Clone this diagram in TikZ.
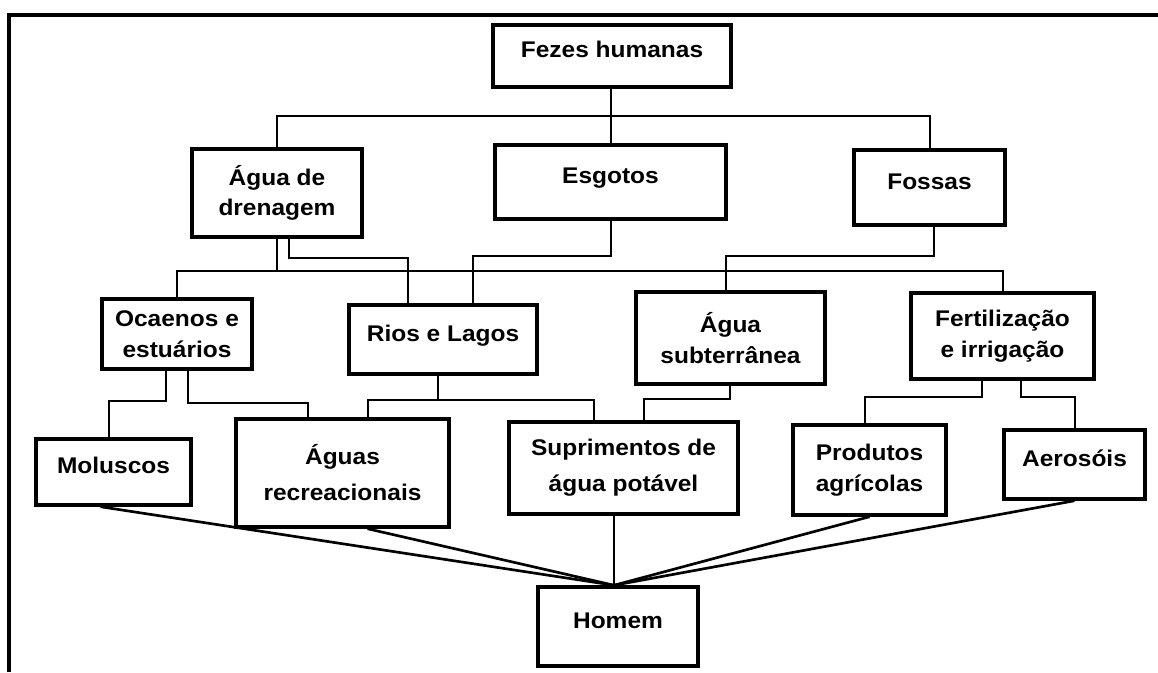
\documentclass[tikz,border=0pt]{standalone}
\usepackage{fontspec}
\setmainfont{Liberation Sans}[FakeStretch=1.08]
\usetikzlibrary{calc}

\tikzset{every picture/.style={line width=0.75pt}}
\tikzset{
  caixa/.style={draw, line width=2.6pt, fill=white, align=center, inner sep=2pt,
    font=\fontsize{17}{23}\selectfont\bfseries},
  tam/.style 2 args={minimum width=#1*0.75pt, minimum height=#2*0.75pt},
  umalinha/.style={text height=0.75em, text depth=0.47em},
  liga/.style={line width=1.5pt},
  liga2/.style={line width=2pt}
}

\begin{document}
\begin{tikzpicture}[x=0.75pt,y=0.75pt,yscale=-1,xscale=1]
\useasboundingbox (0,0) rectangle (1158,672);

\draw [line width=3.3pt] (9,672) -- (9,15) -- (1158,15);

% caixas
\node [caixa, tam={238}{62}, umalinha] (fezes) at (612,56) {Fezes humanas};
\node [caixa, tam={170}{88}] (drenagem) at (277,193) {Água de\\drenagem};
\node [caixa, tam={231}{74}, umalinha] (esgotos) at (610.5,182) {Esgotos};
\node [caixa, tam={151}{75}, umalinha] (fossas) at (929.5,187.5) {Fossas};
\node [caixa, tam={150}{70}] (ocaenos) at (177,334) {Ocaenos e\\estuários};
\node [caixa, tam={188}{69}, umalinha] (rios) at (443,339.5) {Rios e Lagos};
\node [caixa, tam={189}{92}] (subt) at (730.5,338) {Água\\subterrânea};
\node [caixa, tam={183}{86}] (fert) at (1002.5,336) {Fertilização\\e irrigação};
\node [caixa, tam={155}{66}, umalinha] (moluscos) at (113.5,472) {Moluscos};
\node [caixa, tam={213}{108}] (aguasrec) at (342.5,473) {Águas\\[4pt]recreacionais};
\node [caixa, tam={229}{92}] (supr) at (623.5,468) {Suprimentos de\\[4pt]água potável};
\node [caixa, tam={153}{90}] (produtos) at (869.5,470) {Produtos\\agrícolas};
\node [caixa, tam={141}{69}, umalinha] (aerosois) at (1074.5,464.5) {Aerosóis};
\node [caixa, tam={160}{79}, umalinha] (homem) at (618,626.5) {Homem};

% fezes
\coordinate (j1) at (610,116);
\draw [liga] (esgotos.north) -- (esgotos.north |- fezes.south);
\draw [liga] (drenagem.north) |- (j1) -| (fossas.north);

% barramento do meio
\coordinate (bus) at ($(drenagem.south)+(0,32)$);
\draw [liga] (drenagem.south) -- (bus);
\draw [liga] (ocaenos.north) |- (bus) -| (fert.north);
\draw [liga] ($(drenagem.south)+(12,0)$) -- ++(0,19) -| ($(rios.north)+(-35,0)$);
\draw [liga] (esgotos.south) -- ++(0,35) -| ($(rios.north)+(30,0)$);
\draw [liga] ($(fossas.south)+(4,0)$) -- ++(0,29) -| ($(subt.north)+(-5,0)$);

% terceiro nivel
\draw [liga] ($(ocaenos.south)+(-11,0)$) -- ++(0,30) -| ($(moluscos.north)+(-5,0)$);
\draw [liga] ($(ocaenos.south)+(11,0)$) -- ++(0,32) -| ($(aguasrec.north)+(-35,0)$);
\draw [liga] ($(rios.south)+(-5,0)$) -- ++(0,24) coordinate (r1);
\draw [liga] ($(aguasrec.north)+(25,0)$) |- (r1) -| ($(supr.north)+(-30,0)$);
\draw [liga] ($(subt.south)+(-1,0)$) -- ++(0,13) -| ($(supr.north)+(20,0)$);
\draw [liga] ($(fert.south)+(-21,0)$) -- ++(0,16) -| ($(produtos.north)+(-5,0)$);
\draw [liga] ($(fert.south)+(18,0)$) -- ++(0,16) -| (aerosois.north);

% ate o homem
\coordinate (encontro) at ($(homem.north)+(-4,0)$);
\draw [liga2] ($(moluscos.south)+(-13,0)$) -- (encontro);
\draw [liga2] ($(aguasrec.south)+(25,0)$) -- (encontro);
\draw [liga] (encontro |- supr.south) -- (encontro);
\draw [liga2] (produtos.south) -- (encontro);
\draw [liga2] (aerosois.south) -- (encontro);

\end{tikzpicture}
\end{document}
